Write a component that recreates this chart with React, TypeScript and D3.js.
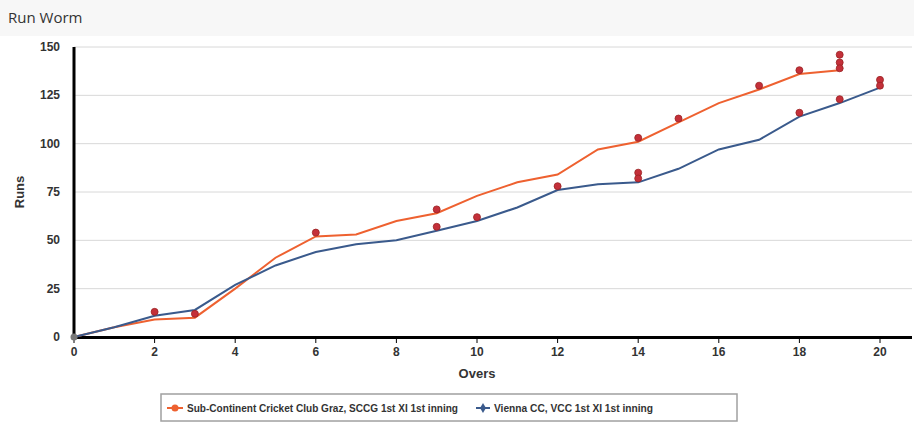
import React from 'react';
import * as d3 from 'd3';

const overs = d3.range(0, 21);
const sccgRuns = [0, 5, 9, 10, 25, 41, 52, 53, 60, 64, 73, 80, 84, 97, 101, 111, 121, 128, 136, 138];
const vccRuns = [0, 5, 11, 14, 27, 37, 44, 48, 50, 55, 60, 67, 76, 79, 80, 87, 97, 102, 114, 121, 129];
const wicketOvers = [2, 3, 6, 9, 9, 10, 12, 14, 14, 14, 15, 17, 18, 18, 19, 19, 19, 19, 20, 20];
const wicketRuns = [13, 12, 54, 66, 57, 62, 78, 103, 85, 82, 113, 130, 138, 116, 146, 142, 139, 123, 133, 130];
const xTicks = d3.range(0, 21, 2);
const yTicks = [0, 25, 50, 75, 100, 125, 150];
const seriesNames = ['Sub-Continent Cricket Club Graz, SCCG 1st XI 1st inning', 'Vienna CC, VCC 1st XI 1st inning'];
const colors = ['#ee6130', '#3a5a8c'];

export default function App() {
  const W = 914, H = 432;
  const x = d3.scaleLinear().domain([0, 20]).range([74, 880]);
  const y = d3.scaleLinear().domain([0, 150]).range([337, 47]);
  const line = d3.line<number>().x((_, i) => x(overs[i])).y(d => y(d));
  const font = 'Arial, "Liberation Sans", sans-serif';
  return (
    <svg width={W} height={H} style={{ position: 'absolute', left: 0, top: 0 }}>
      <rect x={0} y={0} width={W} height={H} fill="#fff" />
      <rect x={0} y={0} width={W} height={36} fill="#f7f7f7" />
      <text x={8} y={23} fontFamily='"Open Sans", sans-serif' fontSize={15} fill="#333">Run Worm</text>
      {yTicks.map(t => (
        <g key={t}>
          {t > 0 && <line x1={74} x2={W - 2} y1={y(t)} y2={y(t)} stroke="#d8d8d8" />}
          <text x={60} y={y(t) + 4} textAnchor="end" fontFamily={font} fontSize={12} fontWeight="bold" fill="#333">{t}</text>
        </g>
      ))}
      {xTicks.map(t => (
        <g key={t}>
          <line x1={x(t)} x2={x(t)} y1={337} y2={343} stroke="#000" />
          <text x={x(t)} y={356} textAnchor="middle" fontFamily={font} fontSize={12} fontWeight="bold" fill="#333">{t}</text>
        </g>
      ))}
      <line x1={74} x2={74} y1={47} y2={338} stroke="#000" strokeWidth={3} />
      <line x1={73} x2={W - 2} y1={337.5} y2={337.5} stroke="#000" strokeWidth={3} />
      <text x={x(10)} y={378} textAnchor="middle" fontFamily={font} fontSize={13} fontWeight="bold" fill="#333">Overs</text>
      <text transform={`translate(24,${y(75)}) rotate(-90)`} textAnchor="middle" fontFamily={font} fontSize={13} fontWeight="bold" fill="#333">Runs</text>
      <path d={line(sccgRuns) || ''} fill="none" stroke={colors[0]} strokeWidth={2} />
      <path d={line(vccRuns) || ''} fill="none" stroke={colors[1]} strokeWidth={2} />
      <circle cx={x(0)} cy={y(0)} r={3.5} fill="#777" />
      {wicketOvers.map((o, i) => (
        <circle key={i} cx={x(o)} cy={y(wicketRuns[i])} r={3.5} fill="#c4303a" stroke="#922" strokeWidth={0.8} />
      ))}
      <rect x={161} y={394} width={576} height={27} fill="#fff" stroke="#a0a0a0" strokeWidth={1.5} />
      <line x1={167} x2={183} y1={408} y2={408} stroke={colors[0]} strokeWidth={2} />
      <circle cx={175} cy={408} r={3.5} fill={colors[0]} />
      <text x={187} y={412} fontFamily={font} fontSize={11} fontWeight="bold" fill="#333" textLength={271} lengthAdjust="spacingAndGlyphs">{seriesNames[0]}</text>
      <line x1={476} x2={490} y1={408} y2={408} stroke={colors[1]} strokeWidth={2} />
      <path d={d3.symbol(d3.symbolDiamond, 30)() || ''} transform="translate(483,408)" fill={colors[1]} />
      <text x={494} y={412} fontFamily={font} fontSize={11} fontWeight="bold" fill="#333" textLength={159} lengthAdjust="spacingAndGlyphs">{seriesNames[1]}</text>
    </svg>
  );
}
